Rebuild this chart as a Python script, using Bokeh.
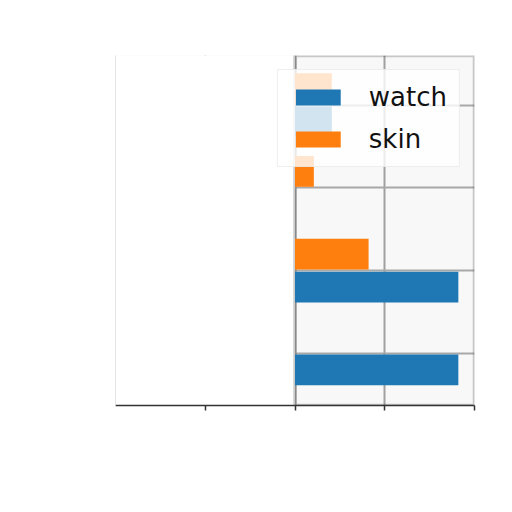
from bokeh.plotting import figure
from bokeh.models import Range1d, BoxAnnotation, FixedTicker, ColumnDataSource
from bokeh.transform import dodge
from bokeh.embed import file_html
from bokeh.resources import INLINE

# data
categories = [0, 1, 2, 3]
watch = [1.82, 1.82, 0.0, 0.41]
skin = [0.0, 0.82, 0.21, 0.41]
x_ticks = [-1, 0, 1, 2]

src = ColumnDataSource(dict(cat=categories, watch=watch, skin=skin))

p = figure(width=504, height=504, output_backend="svg", toolbar_location=None,
           x_range=Range1d(-2, 2), y_range=Range1d(-0.63, 3.6),
           min_border_left=115, min_border_right=30, min_border_top=55, min_border_bottom=99)
p.background_fill_color = "#f8f8f8"
p.border_fill_color = "white"
p.outline_line_color = None

p.hbar(y=dodge("cat", -0.2, range=p.y_range), left=0, right="watch", height=0.37,
       source=src, fill_color="#1f77b4", line_color=None, legend_label="watch")
p.hbar(y=dodge("cat", 0.2, range=p.y_range), left=0, right="skin", height=0.37,
       source=src, fill_color="#ff7f0e", line_color=None, legend_label="skin")

p.xaxis.ticker = FixedTicker(ticks=x_ticks)
p.yaxis.ticker = FixedTicker(ticks=categories)
p.xaxis.major_label_overrides = {t: " " for t in x_ticks}
p.yaxis.major_label_overrides = {t: " " for t in categories}
p.xaxis.minor_tick_line_color = None
p.yaxis.minor_tick_line_color = None
p.xaxis.axis_line_color = "#333333"
p.xaxis.axis_line_width = 1.5
p.xaxis.major_tick_line_color = "#333333"
p.xaxis.major_tick_line_width = 1.5
p.xaxis.major_tick_out = 5
p.xaxis.major_tick_in = 0
p.yaxis.axis_line_color = "#e4e4e4"
p.yaxis.major_tick_line_color = None

p.xgrid.grid_line_color = "#a0a0a0"
p.xgrid.grid_line_width = 2
p.ygrid.grid_line_color = "#a8a8a8"
p.ygrid.grid_line_width = 2

# white left half, drawn over the grid
left_box = BoxAnnotation(right=0, fill_color="white", fill_alpha=1.0, line_color=None, level="underlay")
p.add_layout(left_box)
# border around the right half
border = BoxAnnotation(left=0, fill_alpha=0, line_color="#555555", line_width=3.5, level="underlay")
p.add_layout(border)

lg = p.legend[0]
lg.location = "top_right"
lg.margin = 14
lg.padding = 12
lg.spacing = 12
lg.glyph_width = 56
lg.glyph_height = 20
lg.label_height = 30
lg.label_standoff = 23
lg.label_text_font = "DejaVu Sans"
lg.label_text_font_size = "26px"
lg.label_text_color = "#111111"
lg.background_fill_color = "white"
lg.background_fill_alpha = 0.8
lg.border_line_color = "#dddddd"
lg.border_line_width = 1

open("out.html", "w").write(file_html(p, INLINE))
